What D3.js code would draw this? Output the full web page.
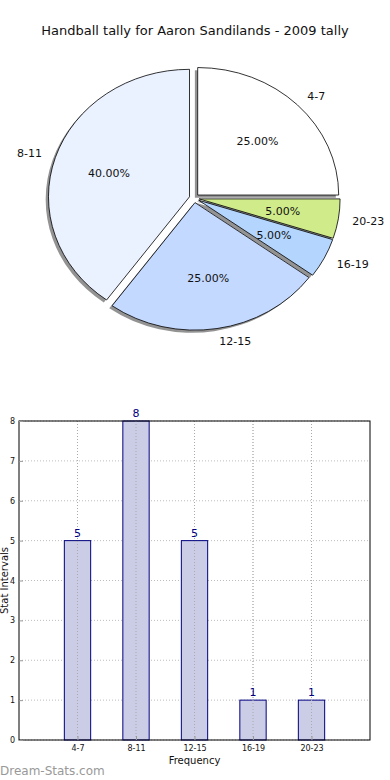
<!DOCTYPE html>
<meta charset="utf-8">
<head>
    <script type="text/javascript" src="https://cdn.jsdelivr.net/npm/d3@7"></script>
    <style>
        body { margin: 0; background: #fff; }
        svg text { font-family: "DejaVu Sans", sans-serif; }
    </style>
    <title>Handball tally for Aaron Sandilands - 2009 tally</title>
</head>
<body>
<script>
    // data
    var categories = ["4-7", "8-11", "12-15", "16-19", "20-23"];
    var counts = [5, 8, 5, 1, 1];
    var sliceColors = ["#ffffff", "#eaf1ff", "#c4d9ff", "#b4d6fe", "#cfeb8a"];
    var yTicks = [0, 1, 2, 3, 4, 5, 6, 7, 8];

    var W = 390, H = 780;
    var svg = d3.select("body").append("svg")
        .attr("width", W).attr("height", H);

    svg.append("text")
        .attr("x", 195).attr("y", 35)
        .attr("text-anchor", "middle")
        .style("font-size", "13px")
        .style("fill", "#111")
        .text("Handball tally for Aaron Sandilands - 2009 tally");

    // ---- pie (matplotlib style: start east, counterclockwise, elliptical) ----
    var cx = 194.2, cy = 198.2, rx = 141, ry = 127.5, explode = 0.035;
    var total = d3.sum(counts);
    var pie = d3.pie().sort(null).value(d => d)
        .startAngle(0).endAngle(2 * Math.PI);
    var arcs = pie(counts);
    // unit arc, then scaled to ellipse
    var arc = d3.arc().innerRadius(0).outerRadius(1);

    // d3 angle 0 = north, clockwise; convert to math angle (east, ccw)
    function mid(a) { return (a.startAngle + a.endAngle) / 2; }
    function toD3(a) {
        return {startAngle: Math.PI / 2 - a.endAngle, endAngle: Math.PI / 2 - a.startAngle};
    }
    function offset(a, f) {
        var t = mid(a);
        return [cx + Math.cos(t) * f * rx, cy - Math.sin(t) * f * ry];
    }

    var pieG = svg.append("g");
    // shadows behind everything
    pieG.selectAll(".shadow").data(arcs).enter().append("path")
        .attr("class", "shadow")
        .attr("transform", function (d) {
            var o = offset(d, explode);
            return "translate(" + (o[0] - 2.8) + "," + (o[1] + 2.6) + ") scale(" + rx + "," + ry + ")";
        })
        .attr("d", d => arc(toD3(d)))
        .style("fill", "#6f6f6f")
        .style("opacity", 0.75);

    pieG.selectAll(".wedge").data(arcs).enter().append("path")
        .attr("class", "wedge")
        .attr("transform", function (d) {
            var o = offset(d, explode);
            return "translate(" + o[0] + "," + o[1] + ") scale(" + rx + "," + ry + ")";
        })
        .attr("d", d => arc(toD3(d)))
        .style("fill", (d, i) => sliceColors[i])
        .style("stroke", "#000")
        .style("stroke-width", 0.8)
        .attr("vector-effect", "non-scaling-stroke");

    // category labels at 1.1 radius
    pieG.selectAll(".lab").data(arcs).enter().append("text")
        .attr("x", d => offset(d, 1.1 + explode)[0])
        .attr("y", d => offset(d, 1.1 + explode)[1])
        .attr("dy", "0.35em")
        .attr("text-anchor", d => Math.cos(mid(d)) >= 0 ? "start" : "end")
        .style("font-size", "11px")
        .style("fill", "#111")
        .text((d, i) => categories[i]);

    // percentage labels at 0.6 radius
    pieG.selectAll(".pct").data(arcs).enter().append("text")
        .attr("x", d => offset(d, 0.6 + explode)[0])
        .attr("y", d => offset(d, 0.6 + explode)[1])
        .attr("dy", "0.35em")
        .attr("text-anchor", "middle")
        .style("font-size", "11px")
        .style("fill", "#111")
        .text(d => (d.value / total * 100).toFixed(2) + "%");

    // ---- bar chart ----
    var bx0 = 19, bx1 = 370, by0 = 421, by1 = 740;
    var x = d3.scaleLinear().domain([0, 6]).range([bx0, bx1]);
    var y = d3.scaleLinear().domain([0, 8]).range([by1, by0]);
    var barW = 0.45;
    var g = svg.append("g");

    // grid
    g.selectAll(".gy").data(yTicks).enter().append("line")
        .attr("x1", bx0).attr("x2", bx1)
        .attr("y1", d => y(d)).attr("y2", d => y(d))
        .style("stroke", "#bdbdbd").style("stroke-dasharray", "1,2");
    g.selectAll(".gx").data(categories).enter().append("line")
        .attr("x1", (d, i) => x(i + 1)).attr("x2", (d, i) => x(i + 1))
        .attr("y1", by0).attr("y2", by1)
        .style("stroke", "#bdbdbd").style("stroke-dasharray", "1,2");

    g.selectAll(".bar").data(counts).enter().append("rect")
        .attr("x", (d, i) => x(i + 1 - barW / 2))
        .attr("width", x(barW) - x(0))
        .attr("y", d => y(d))
        .attr("height", d => y(0) - y(d))
        .style("fill", "#cbcce5")
        .style("stroke", "#000080")
        .style("stroke-width", 1);

    // grid passes over bars too
    g.selectAll(".gx2").data(categories).enter().append("line")
        .attr("x1", (d, i) => x(i + 1)).attr("x2", (d, i) => x(i + 1))
        .attr("y1", by0).attr("y2", by1)
        .style("stroke", "#aaaaaa").style("stroke-dasharray", "1,2");

    g.selectAll(".val").data(counts).enter().append("text")
        .attr("x", (d, i) => x(i + 1))
        .attr("y", d => y(d) - 4)
        .attr("text-anchor", "middle")
        .style("font-size", "11px")
        .style("fill", "#000080")
        .text(d => d);

    g.append("rect")
        .attr("x", bx0).attr("y", by0)
        .attr("width", bx1 - bx0).attr("height", by1 - by0)
        .style("fill", "none").style("stroke", "#000").style("stroke-width", 1);

    var yAxis = d3.axisLeft(y).tickValues(yTicks).tickSize(-4).tickPadding(4);
    g.append("g").attr("transform", "translate(" + bx0 + ",0)").call(yAxis)
        .call(a => a.select(".domain").remove())
        .call(a => a.selectAll("text").style("font-size", "8px").style("fill", "#111"))
        .call(a => a.selectAll("line").style("stroke", "#999"));

    var xAxis = d3.axisBottom(x).tickValues([1, 2, 3, 4, 5])
        .tickFormat((d, i) => categories[i]).tickSize(-4).tickPadding(5);
    g.append("g").attr("transform", "translate(0," + by1 + ")").call(xAxis)
        .call(a => a.select(".domain").remove())
        .call(a => a.selectAll("text").style("font-size", "8px").style("fill", "#111"))
        .call(a => a.selectAll("line").style("stroke", "#999"));

    svg.append("text")
        .attr("x", (bx0 + bx1) / 2).attr("y", 764)
        .attr("text-anchor", "middle")
        .style("font-size", "10px").style("fill", "#111")
        .text("Frequency");

    svg.append("text")
        .attr("transform", "translate(8," + ((by0 + by1) / 2) + ") rotate(-90)")
        .attr("text-anchor", "middle")
        .style("font-size", "10px").style("fill", "#111")
        .text("Stat Intervals");

    svg.append("text")
        .attr("x", 0).attr("y", 775)
        .style("font-size", "12px").style("fill", "#999")
        .text("Dream-Stats.com");
</script>
</body>
</html>
